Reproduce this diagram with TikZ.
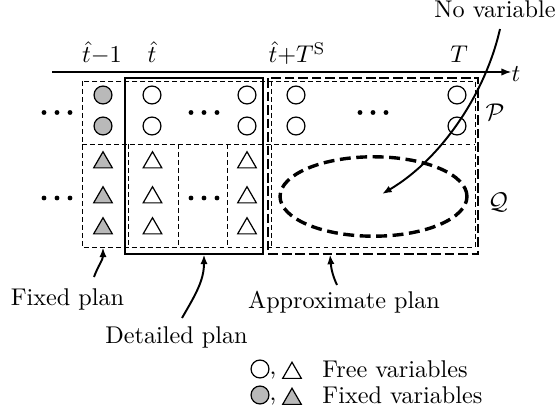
\documentclass[tikz,border=0pt]{standalone}
\usetikzlibrary{arrows.meta,shapes.geometric}
\begin{document}
\begin{tikzpicture}[x=0.413pt,y=-0.413pt,
  freec/.style={circle,draw,line width=0.5pt,minimum size=7.4pt,inner sep=0pt},
  fixedc/.style={freec,fill=gray!55},
  freetri/.style={regular polygon,regular polygon sides=3,draw,line width=0.5pt,minimum size=8.9pt,inner sep=0pt},
  fixedtri/.style={freetri,fill=gray!55},
  thindash/.style={dash pattern=on 2pt off 1.3pt,line width=0.4pt},
  planbox/.style={line width=0.9pt},
  approxbox/.style={line width=0.9pt,dash pattern=on 4pt off 1.6pt},
  pointer/.style={line width=0.8pt,-{Latex[length=4pt,width=3pt]}},
  axisline/.style={line width=0.5pt,-{Latex[length=4pt,width=3pt]}},
  lbl/.style={inner sep=0pt,anchor=base},
  dotmark/.style={fill=black}]
\useasboundingbox (0,0) rectangle (559,414);

% thin dashed grid
\draw[thindash] (82,81) rectangle (475,247);
\draw[thindash] (82,144) -- (475,144);
\foreach \x in {128,178,227} \draw[thindash] (\x,144) -- (\x,247);
\draw[thindash] (271,81) -- (271,247);

% plan boxes
\draw[planbox] (125,78) rectangle (263,254);
\draw[approxbox] (268,78) rectangle (478,254);

% time axis
\coordinate (ax0) at (52,72);
\node[lbl] (tlab) at (516,82) {$t$};
\draw[axisline] (ax0) -- (ax0 -| tlab.west);
\node[lbl] (lt1) at (102,63) {$\hat{t}{-}1$};
\node[lbl] (lt) at (152,63) {$\hat{t}$};
\node[lbl] (ltS) at (297,63) {$\hat{t}{+}T^{\mathrm{S}}$};
\node[lbl] (lT) at (459,63) {$T$};

% circles (P rows)
\node[fixedc] (f1) at (103,95) {};
\node[fixedc] (f2) at (103,126) {};
\node[freec] (c11) at (152,95) {};
\node[freec] (c12) at (152,126) {};
\node[freec] (c21) at (247,95) {};
\node[freec] (c22) at (247,126) {};
\node[freec] (c31) at (296,95) {};
\node[freec] (c32) at (296,126) {};
\node[freec] (c41) at (457,95) {};
\node[freec] (c42) at (457,126) {};

% triangles (Q rows)
\foreach \y [count=\i] in {162.5,197.5,228.5}{
  \node[fixedtri] (ft\i) at (103,\y) {};
  \node[freetri] (ta\i) at (152.5,\y) {};
  \node[freetri] (tb\i) at (247,\y) {};
}

% dots
\foreach \cx/\cy in {57/112.5,204/112.5,373/112.5,57/198,204/198}{
  \foreach \dx in {-13,0,13} \fill[dotmark] (\cx+\dx,\cy) circle[radius=1pt];
}

% region labels
\node (P) at (495,112) {$\mathcal{P}$};
\node (Q) at (498,202) {$\mathcal{Q}$};

% ellipse
\node[ellipse,draw,line width=1.4pt,dash pattern=on 4.5pt off 2.3pt,
  minimum width=77.2pt,minimum height=32.8pt,inner sep=0pt] (ell) at (373.5,196.5) {};

% No variable
\node[lbl] (nv) at (495,18) {No variable};
\coordinate (nvs) at (500,29);
\coordinate (nve) at (382,194);
\draw[pointer] (nvs) .. controls (485,95) and (440,160) .. (nve);

% plan labels and arrows
\node[lbl] (fixedl) at (67.5,305) {Fixed plan};
\node[lbl] (detl) at (176.5,343) {Detailed plan};
\node[lbl] (appl) at (344,308) {Approximate plan};
\coordinate (fs) at (94,277);
\coordinate (fe) at (103,247.5);
\coordinate (ds) at (182,318);
\coordinate (de) at (204,254.5);
\coordinate (as) at (337,285);
\coordinate (ae) at (330,254.5);
\draw[pointer] (fs) to[out=70,in=-90] (fe);
\draw[pointer] (ds) to[out=60,in=-90] (de);
\draw[pointer] (as) to[out=115,in=-85] (ae);

% legend
\node[freec] (lc1) at (260,369) {};
\node[lbl] (lcm1) at (273,374) {,};
\node[freetri] (lt1x) at (292,373) {};
\node[lbl,anchor=base west] (lfree) at (322,377) {Free variables};
\node[fixedc] (lc2) at (260,395) {};
\node[lbl] (lcm2) at (273,400) {,};
\node[fixedtri] (lt2x) at (292,399) {};
\node[lbl,anchor=base west] (lfixed) at (322,403) {Fixed variables};
\end{tikzpicture}
\end{document}
